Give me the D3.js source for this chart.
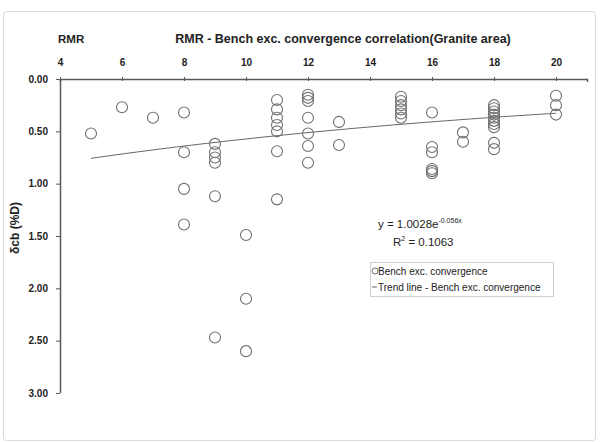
<!DOCTYPE html>
<html>
<head>
<meta charset="utf-8">
<script src="https://cdn.jsdelivr.net/npm/d3@7"></script>
<style>
  body { margin: 0; background: #fff; }
  svg text { font-family: "Liberation Sans Narrow", "Liberation Sans", Arial, sans-serif; fill: #222; }
</style>
</head>
<body>
<svg width="605" height="442"></svg>
<script>
// RMR values and measured convergence (%D), one column per RMR class
var rmr = [5, 6, 7, 8, 8, 8, 8,
    9, 9, 9, 9, 9, 9,
    10, 10, 10,
    11, 11, 11, 11, 11, 11, 11,
    12, 12, 12, 12, 12, 12, 12,
    13, 13,
    15, 15, 15, 15, 15, 15,
    16, 16, 16, 16, 16, 16,
    17, 17,
    18, 18, 18, 18, 18, 18, 18, 18, 18, 18,
    20, 20, 20];
var convergence = [0.52, 0.27, 0.37, 0.32, 0.70, 1.05, 1.39,
    0.62, 0.70, 0.75, 0.80, 1.12, 2.47,
    1.49, 2.10, 2.60,
    0.20, 0.29, 0.37, 0.44, 0.50, 0.69, 1.15,
    0.15, 0.18, 0.21, 0.37, 0.52, 0.64, 0.80,
    0.41, 0.63,
    0.17, 0.21, 0.25, 0.29, 0.33, 0.37,
    0.32, 0.65, 0.70, 0.86, 0.88, 0.90,
    0.51, 0.60,
    0.25, 0.28, 0.31, 0.34, 0.37, 0.40, 0.43, 0.46, 0.61, 0.67,
    0.16, 0.25, 0.34];

// exponential trend line shown on the chart: y = a * e^(b x)
var trendA = 1.0028, trendB = -0.056;
var trendRange = [5, 20];

var xTicks = [4, 6, 8, 10, 12, 14, 16, 18, 20];
var yTicks = [0, 0.5, 1, 1.5, 2, 2.5, 3];

var svg = d3.select("svg");

// chart frame
svg.append("rect")
    .attr("x", 3.5).attr("y", 11.5)
    .attr("width", 592).attr("height", 429)
    .attr("rx", 3)
    .attr("fill", "#fff")
    .attr("stroke", "#d9d9d9");

var x = d3.scaleLinear().domain([4, 21]).range([60, 587]);
var y = d3.scaleLinear().domain([0, 3]).range([79, 393]);

// top x axis
var xAxis = svg.append("g")
    .attr("transform", "translate(0,79)")
    .call(d3.axisTop(x).tickValues(xTicks).tickFormat(d3.format("d")).tickSize(-3).tickPadding(13));
xAxis.select(".domain").attr("stroke", "#595959").attr("stroke-width", 1.5);
xAxis.selectAll(".tick line").attr("stroke", "#595959").attr("y1", -2).attr("y2", 2);
xAxis.selectAll("text")
    .attr("font-size", 10).attr("font-weight", "bold").attr("fill", "#222")
    .style("font-family", "Liberation Sans Narrow, Liberation Sans, sans-serif");

// left y axis (reversed: 0 at top)
var yAxis = svg.append("g")
    .attr("transform", "translate(60,0)")
    .call(d3.axisLeft(y).tickValues(yTicks).tickFormat(d3.format(".2f")).tickSize(4).tickPadding(8));
yAxis.select(".domain").attr("stroke", "#595959").attr("stroke-width", 1.5)
    .attr("d", "M0.5," + y(0) + "V" + y(3));
yAxis.selectAll(".tick line").attr("stroke", "#595959");
yAxis.selectAll("text")
    .attr("font-size", 10).attr("font-weight", "bold").attr("fill", "#222")
    .style("font-family", "Liberation Sans Narrow, Liberation Sans, sans-serif");

// titles
svg.append("text")
    .attr("x", 58).attr("y", 43)
    .attr("font-size", 11.5).attr("font-weight", "bold")
    .text("RMR");
svg.append("text")
    .attr("x", 343).attr("y", 43)
    .attr("text-anchor", "middle")
    .attr("font-size", 12.5).attr("font-weight", "bold")
    .text("RMR - Bench exc. convergence correlation(Granite area)");
svg.append("text")
    .attr("transform", "translate(19,228) rotate(-90)")
    .attr("text-anchor", "middle")
    .attr("font-size", 12).attr("font-weight", "bold")
    .text("δcb (%D)");

// trend line
var trendX = d3.range(trendRange[0], trendRange[1] + 0.01, 0.25);
var line = d3.line()
    .x(function (d) { return x(d); })
    .y(function (d) { return y(trendA * Math.exp(trendB * d)); });
svg.append("path")
    .datum(trendX)
    .attr("d", line)
    .attr("fill", "none")
    .attr("stroke", "#666")
    .attr("stroke-width", 1);

// points
svg.append("g")
    .selectAll("circle")
    .data(rmr)
    .enter().append("circle")
    .attr("cx", function (d) { return x(d); })
    .attr("cy", function (d, i) { return y(convergence[i]); })
    .attr("r", 5.5)
    .attr("fill", "none")
    .attr("stroke", "#707070")
    .attr("stroke-width", 1.1);

// equation
var eq = svg.append("text")
    .attr("x", 378).attr("y", 228)
    .attr("font-size", 11.5);
eq.append("tspan").text("y = 1.0028e");
eq.append("tspan").attr("dy", -5).attr("font-size", 7).text("-0.056x");
var r2 = svg.append("text")
    .attr("x", 393).attr("y", 246)
    .attr("font-size", 11.5);
r2.append("tspan").text("R");
r2.append("tspan").attr("dy", -5).attr("font-size", 7).text("2");
r2.append("tspan").attr("dy", 5).text(" = 0.1063");

// legend
var legend = svg.append("g").attr("transform", "translate(370,262)");
legend.append("rect")
    .attr("x", 0.5).attr("y", 0.5)
    .attr("width", 183).attr("height", 34)
    .attr("fill", "#fff")
    .attr("stroke", "#d0d0d0");
legend.append("circle")
    .attr("cx", 5).attr("cy", 9)
    .attr("r", 3)
    .attr("fill", "none")
    .attr("stroke", "#707070");
legend.append("text")
    .attr("x", 8).attr("y", 12.5)
    .attr("font-size", 10)
    .text("Bench exc. convergence");
legend.append("line")
    .attr("x1", 2).attr("x2", 7)
    .attr("y1", 25).attr("y2", 25)
    .attr("stroke", "#666");
legend.append("text")
    .attr("x", 8).attr("y", 28.5)
    .attr("font-size", 10)
    .text("Trend line - Bench exc. convergence");
</script>
</body>
</html>
